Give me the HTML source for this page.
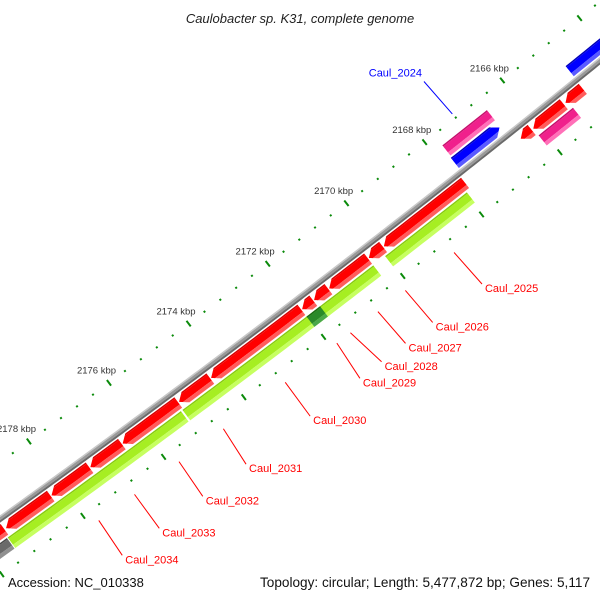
<!DOCTYPE html>
<html><head><meta charset="utf-8"><style>
html,body{margin:0;padding:0;background:#fff;width:600px;height:600px;overflow:hidden;}
svg{display:block;font-family:"Liberation Sans",sans-serif;overflow:hidden;}
</style></head><body>
<svg id="map" width="600" height="600" viewBox="0 0 600 600">
<rect x="0" y="0" width="600" height="600" fill="#fff"/>
<g id="ticks"></g>
<g id="backbone"></g>
<g id="features"></g>
<g id="labels"></g>
<text x="300" y="23" text-anchor="middle" font-size="13" font-style="italic" fill="#222">Caulobacter sp. K31, complete genome</text>
<text x="8" y="587" font-size="13" fill="#111">Accession: NC_010338</text>
<text x="590" y="587" text-anchor="end" font-size="13.6" fill="#111">Topology: circular; Length: 5,477,872 bp; Genes: 5,117</text>
</svg>
<script>
// ---- data ----
const geneStarts = [2164845,2165337,2166161,2167868,2169956,2170337,2171341,2171723,2172024,2174313,2175116,2176522,2177325,2178289,2179433,
  2167958,2170337,2175177,2179494,2171683,2165237,2166616,2166637,2163590];
const geneEnds = [2165291,2166120,2166442,2169936,2170317,2171321,2171703,2172004,2174293,2175096,2176502,2177305,2178269,2179393,2180458,
  2170036,2175137,2179474,2180900,2172024,2166120,2167759,2167781,2164827];
const geneRings = [1,1,1,1,1,1,1,1,1,1,1,1,1,1,1, 2,2,2,2,2,2,-2,-1,-1];
const geneDirs = [1,1,1,1,1,1,1,1,1,1,1,1,1,1,1, 0,0,0,0,0,0,0,-1,-1];
const geneKinds = ['red','red','red','red','red','red','red','red','red','red','red','red','red','red','red',
  'lime','lime','lime','gray','dkgreen','pink','pink','blue','blue'];
const labelNames = ['Caul_2025','Caul_2026','Caul_2027','Caul_2028','Caul_2029','Caul_2030','Caul_2031','Caul_2032','Caul_2033','Caul_2034','Caul_2024'];
const labelGene = [3,4,5,6,7,8,9,10,11,12,22];
const labelAnchorBp = [2168851,2170096,2170779,2171381,2171924,2173169,2174765,2175839,2176914,2177827,2167251];
const tickStartBp = 2162000, tickEndBp = 2182000, minorStep = 400, majorStep = 2000;

// ---- geometry ----
const A=[0,519], M=[300,297], B=[580,77];
function circum(a,b,c){
  const d=2*(a[0]*(b[1]-c[1])+b[0]*(c[1]-a[1])+c[0]*(a[1]-b[1]));
  const ux=((a[0]*a[0]+a[1]*a[1])*(b[1]-c[1])+(b[0]*b[0]+b[1]*b[1])*(c[1]-a[1])+(c[0]*c[0]+c[1]*c[1])*(a[1]-b[1]))/d;
  const uy=((a[0]*a[0]+a[1]*a[1])*(c[0]-b[0])+(b[0]*b[0]+b[1]*b[1])*(a[0]-c[0])+(c[0]*c[0]+c[1]*c[1])*(b[0]-a[0]))/d;
  return [ux,uy];
}
const C=circum(A,M,B);
const R=Math.hypot(A[0]-C[0],A[1]-C[1]);
const PXK=49.8;
const a0=Math.atan2(115-C[1],530-C[0]);
function ang(bp){return a0+(bp-2166000)/1000*PXK/R;}
function pos(bp,d){const a=ang(bp);return [C[0]+(R+d)*Math.cos(a),C[1]+(R+d)*Math.sin(a)];}
const NS='http://www.w3.org/2000/svg';
function mk(tag,attrs,parent){const e=document.createElementNS(NS,tag);for(const k in attrs)e.setAttribute(k,attrs[k]);parent.appendChild(e);return e;}
function f(p){return p[0].toFixed(2)+','+p[1].toFixed(2);}

const ringRange={'1':[4.5,17.5],'2':[19.5,32.5],'-1':[-17.5,-4.5],'-2':[-32.5,-19.5]};
const pal={red:['#d80000','#ff0000','#ff5c5c'],lime:['#88cc10','#a6ee22','#c6ff60'],blue:['#0000b8','#0000ff','#5a5aff'],
  pink:['#c4106c','#f0208c','#ff70b8'],gray:['#4a4a4a','#6a6a6a','#909090'],dkgreen:['#1a6a1a','#2a8a2a','#4aa84a']};

// ---- ticks ----
const tg=document.getElementById('ticks');
for(let bp=tickStartBp;bp<=tickEndBp;bp+=minorStep){
  const major=bp%majorStep===0;
  [-46,46].forEach(function(dc){
    const half=major?3.5:1;
    const p1=pos(bp,dc-half),p2=pos(bp,dc+half);
    const ln=mk('line',{x1:p1[0],y1:p1[1],x2:p2[0],y2:p2[1],stroke:'#0a8a0a','stroke-width':2},tg);
    
    
  });
  if(major){
    const lp=pos(bp+60,-63);
    if(lp[1]<12) continue;
    const t=mk('text',{x:lp[0],y:lp[1],'text-anchor':'middle','dominant-baseline':'central','font-size':'9.5',fill:'#333'},tg);
    t.textContent=(bp/1000)+' kbp';
    
    
  }
}

// ---- backbone ----
const bb=document.getElementById('backbone');
function bandPath(s,e,ra,rb){
  const pts=[];const st=100;
  for(let b=s;b<=e;b+=st)pts.push(pos(b,ra));
  for(let b=e;b>=s;b-=st)pts.push(pos(b,rb));
  return pts.map(f).join(' ');
}
[[-3,-1.5,'#c8c8c8'],[-1.5,1,'#999999'],[1,3,'#6a6a6a']].forEach(function(x){
  const pg=mk('polygon',{points:bandPath(2162500,2181200,x[0],x[1]),fill:x[2]},bb);
  
  
});

// ---- features ----
const fg=document.getElementById('features');
function shapePts(s,e,dir,r1,r2,ra,rb){
  const rm=(r1+r2)/2,hw=(r2-r1)/2;
  const h=Math.min(160,(e-s)*0.9);
  function right(r){return dir===1?e-h*Math.abs(r-rm)/hw:e;}
  function left(r){return dir===-1?s+h*Math.abs(r-rm)/hw:s;}
  const pts=[];const st=150;
  let l=left(ra),rr=right(ra);
  for(let b=l;b<rr;b+=st)pts.push(pos(b,ra));
  const rs=[];for(let r=ra;r<=rb+1e-6;r+=0.5)rs.push(r);
  if(ra<rm&&rm<rb)rs.push(rm);
  rs.sort(function(x,y){return x-y;});
  rs.forEach(function(r){pts.push(pos(right(r),r));});
  l=left(rb);rr=right(rb);
  for(let b=rr-st;b>l;b-=st)pts.push(pos(b,rb));
  rs.slice().reverse().forEach(function(r){pts.push(pos(left(r),r));});
  return pts.map(f).join(' ');
}
for(let i=0;i<geneStarts.length;i++){
  const rg=ringRange[String(geneRings[i])];
  const r1=rg[0],r2=rg[1];
  const c=pal[geneKinds[i]];
  const g=mk('g',{},fg);
  
  
  const bands=[[r1,r1+1.5,c[0]],[r1+1.5,r2-4,c[1]],[r2-4,r2,c[2]]];
  bands.forEach(function(bd){
    mk('polygon',{points:shapePts(geneStarts[i],geneEnds[i],geneDirs[i],r1,r2,bd[0],bd[1]),fill:bd[2]},g);
  });
}

// ---- labels ----
const lg=document.getElementById('labels');
for(let k=0;k<labelNames.length;k++){
  const gi=labelGene[k];
  const mid=(geneStarts[gi]+geneEnds[gi])/2;
  const outer=geneRings[gi]<0;
  const p1=outer?pos(mid,-51):pos(mid,59);
  const p2=outer?pos(labelAnchorBp[k],-94):pos(labelAnchorBp[k],101);
  const col=outer?'#0000ff':'#ff0000';
  const ln=mk('line',{x1:p1[0],y1:p1[1],x2:p2[0],y2:p2[1],stroke:col,'stroke-width':1},lg);
  
  
  const t=mk('text',outer?{x:p2[0]-2,y:p2[1]-8,'text-anchor':'end'}:{x:p2[0]+3,y:p2[1]+5},lg);
  t.setAttribute('dominant-baseline','central');
  t.setAttribute('font-size','11');
  t.setAttribute('fill',col);
  t.textContent=labelNames[k];
  
  
}
</script>
</body></html>
